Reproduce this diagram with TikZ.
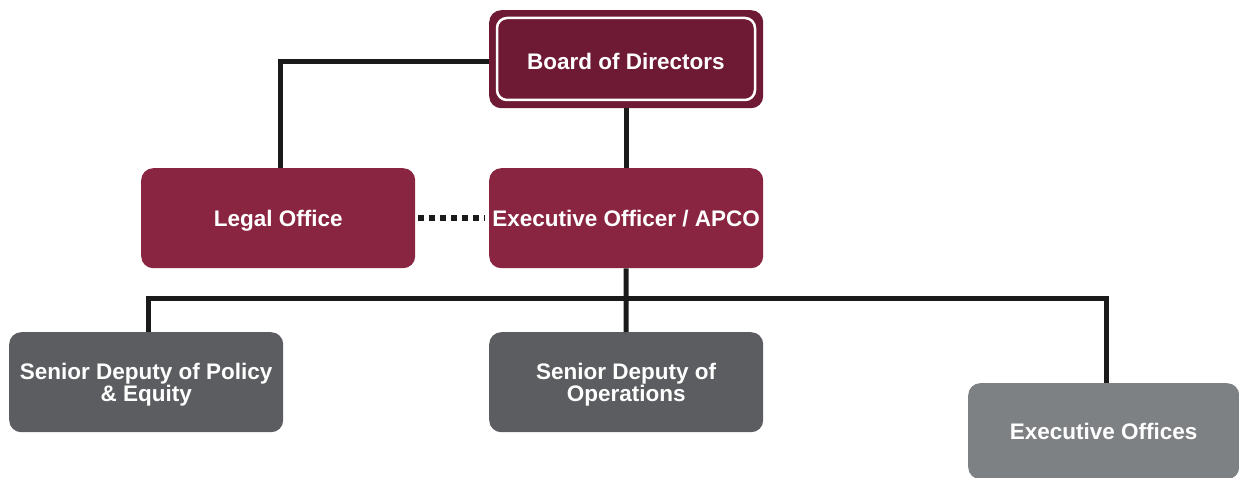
\documentclass[tikz,border=0pt]{standalone}
\usepackage{fontspec}
\setmainfont{Liberation Sans}
\definecolor{boardc}{HTML}{6E1A35}
\definecolor{maroon}{HTML}{8A2541}
\definecolor{darkgrey}{HTML}{5B5D60}
\definecolor{lightgrey}{HTML}{7E8184}
\definecolor{linec}{HTML}{1A1A1A}
\tikzset{
  boxfont/.style={font=\fontsize{22.5}{22}\selectfont\bfseries},
  box/.style={rounded corners=12pt, minimum width=274pt, minimum height=100pt, text=white,
    boxfont, align=center, inner sep=0pt, anchor=north west},
  conn/.style={draw=linec, line width=5pt},
}
\begin{document}
\begin{tikzpicture}[x=1pt,y=-1pt]
\useasboundingbox (0,0) rectangle (1239,478);
% board
\node[box, fill=boardc, minimum height=98pt] (board) at (489,10) {};
\draw[white, line width=2.5pt, rounded corners=10pt] (497,18) rectangle (755,100);
\node[text=white, boxfont] (boardt) at (626,61) {Board of Directors};
\node[box, fill=maroon, text depth=-4pt] (legal) at (141,168) {Legal Office};
\node[box, fill=maroon, text depth=-4pt] (exec) at (489,168) {Executive Officer / APCO};
\node[box, fill=darkgrey, text depth=-5pt] (pol) at (9,332) {Senior Deputy of Policy\\\& Equity};
\node[box, fill=darkgrey, text depth=-5pt] (ops) at (489,332) {Senior Deputy of\\Operations};
\node[box, fill=lightgrey, minimum width=271pt, minimum height=96pt, text depth=-4pt] (eo) at (968,383) {Executive Offices};
\coordinate (j) at (626,298);
\begin{scope}[on background layer/.try]
\draw[conn] (board.west |- 0,62) -| (legal.north -| 280,0);
\draw[conn] (board.south) -- (exec.north);
\draw[conn] (exec.south) -- (j);
\draw[conn] (pol.north -| 148,0) |- (j) -| (eo.north -| 1106,0);
\draw[conn] (j) -- (ops.north);
\end{scope}
\draw[linec, line width=6pt, dash pattern=on 6pt off 5pt] (legal.east |- 0,218) ++(3,0) -- (485,218);
\end{tikzpicture}
\end{document}
